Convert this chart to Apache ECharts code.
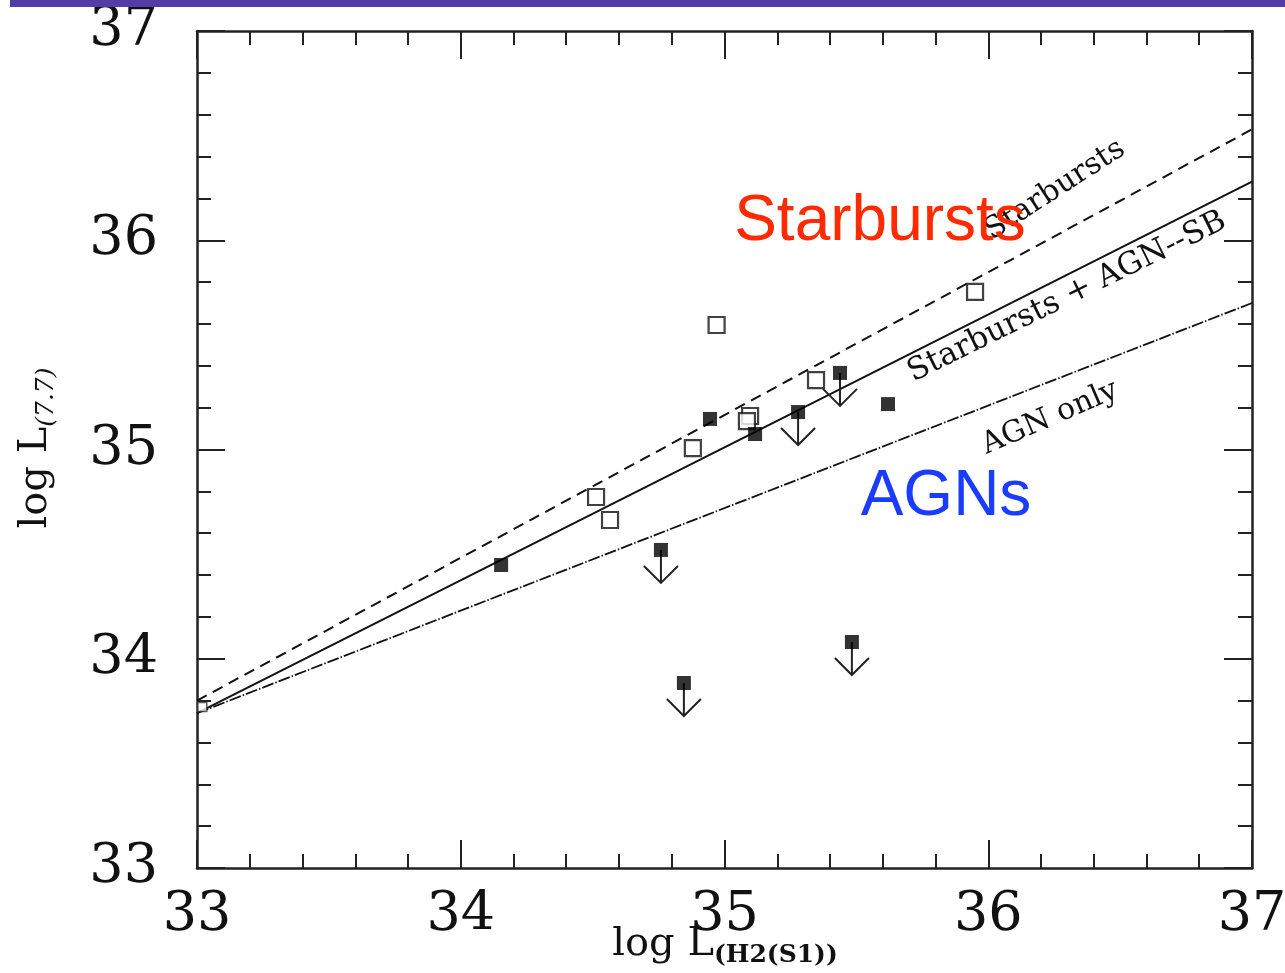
<!DOCTYPE html>
<html>
<head>
<meta charset="utf-8">
<script src="https://cdn.jsdelivr.net/npm/echarts@6/dist/echarts.min.js"></script>
<style>
html,body{margin:0;padding:0;background:#fff;overflow:hidden;}
#chart{width:1285px;height:973px;}
</style>
</head>
<body>
<div id="chart"></div>
<script>
// ---- data ----
const xRange = [33, 37];
const yRange = [33, 37];
// open squares: starburst galaxies
const starburstPoints = [
  [34.97, 35.595], [35.95, 35.753], [35.347, 35.332], [35.097, 35.160],
  [35.085, 35.136], [34.88, 35.007], [34.513, 34.773], [34.566, 34.663]
];
// open square sitting on the left axis
const starburstEdgePoints = [[33.02, 33.77]];
// filled squares: AGN (detections)
const agnPoints = [
  [34.153, 34.448], [34.945, 35.146], [35.116, 35.074], [35.62, 35.217]
];
// filled squares with upper-limit arrows
const agnUpperLimits = [
  [35.279, 35.179], [35.438, 35.366], [34.759, 34.52], [34.846, 33.884], [35.483, 34.08]
];
// fitted relations
const fitStarbursts = [[33, 33.80], [37, 36.53]];
const fitCombined   = [[33, 33.74], [37, 36.28]];
const fitAgnOnly    = [[33, 33.74], [37, 35.70]];

const serif = '"DejaVu Serif", "Liberation Serif", serif';
const axisColor = '#222';

const chart = echarts.init(document.getElementById('chart'), null, {renderer: 'canvas', width: 1285, height: 973});

function axisCommon(showLabel) {
  return {
    axisLine: {show: true, onZero: false, lineStyle: {color: axisColor, width: 2.5}},
    axisTick: {show: true, inside: true, length: 28, lineStyle: {color: axisColor, width: 2}},
    minorTick: {show: true, splitNumber: 5, length: 14, lineStyle: {color: axisColor, width: 2}},
    splitLine: {show: false},
    minorSplitLine: {show: false},
    axisLabel: {show: showLabel, color: '#111', fontFamily: serif, fontSize: 54}
  };
}

const xBottom = Object.assign({type: 'value', position: 'bottom', min: xRange[0], max: xRange[1], interval: 1}, axisCommon(true));
xBottom.axisLabel.margin = 21;
const xTop = Object.assign({type: 'value', position: 'top', min: xRange[0], max: xRange[1], interval: 1}, axisCommon(false));
const yLeft = Object.assign({type: 'value', position: 'left', min: yRange[0], max: yRange[1], interval: 1}, axisCommon(true));
yLeft.axisLabel.margin = 39;
const yRight = Object.assign({type: 'value', position: 'right', min: yRange[0], max: yRange[1], interval: 1}, axisCommon(false));

const option = {
  animation: false,
  backgroundColor: '#fff',
  grid: {left: 197, right: 33, top: 31, bottom: 105, containLabel: false, outerBoundsMode: 'none'},
  xAxis: [xBottom, xTop],
  yAxis: [yLeft, yRight],
  series: [
    {
      type: 'line', data: fitStarbursts, symbol: 'none',
      lineStyle: {color: '#111', width: 2, type: [11, 7]}, z: 3
    },
    {
      type: 'line', data: fitCombined, symbol: 'none',
      lineStyle: {color: '#111', width: 2, type: 'solid'}, z: 3
    },
    {
      type: 'line', data: fitAgnOnly, symbol: 'none',
      lineStyle: {color: '#111', width: 1.8, type: [12, 2, 1.5, 2]}, z: 3
    },
    {
      type: 'custom', data: agnUpperLimits, z: 4,
      renderItem: function (params, api) {
        const p = api.coord([api.value(0), api.value(1)]);
        return {
          type: 'group',
          children: [
            {type: 'line', shape: {x1: p[0], y1: p[1], x2: p[0], y2: p[1] + 33},
             style: {stroke: '#222', lineWidth: 2}},
            {type: 'polyline', shape: {points: [[p[0] - 17, p[1] + 16], [p[0], p[1] + 33], [p[0] + 17, p[1] + 16]]},
             style: {stroke: '#222', lineWidth: 2, fill: null}}
          ]
        };
      }
    },
    {
      type: 'scatter', data: starburstPoints, symbol: 'rect', symbolSize: 16, z: 5,
      itemStyle: {color: '#fff', borderColor: '#111', borderWidth: 2.2}
    },
    {
      type: 'scatter', data: starburstEdgePoints, symbol: 'rect', symbolSize: 9, z: 5,
      itemStyle: {color: '#fff', borderColor: '#333', borderWidth: 1.5}
    },
    {
      type: 'scatter', data: agnPoints.concat(agnUpperLimits), symbol: 'rect', symbolSize: 14, z: 6,
      itemStyle: {color: '#000'}
    }
  ],
  graphic: [
    {type: 'rect', left: 10, top: 0, shape: {width: 1275, height: 7}, style: {fill: '#523CA8'}, z: 10},
    // axis titles
    {type: 'text', x: 725, y: 945, z: 10,
     style: {text: '{a|log L}{b|(H2(S1))}', align: 'center', verticalAlign: 'middle',
       rich: {a: {fontFamily: serif, fontSize: 40, fill: '#111'},
              b: {fontFamily: serif, fontSize: 25, fontWeight: 'bold', fill: '#111', padding: [20, 0, 0, 0]}}}},
    {type: 'text', x: 36, y: 448, rotation: Math.PI / 2, z: 10,
     style: {text: '{a|log L}{b|(7.7)}', align: 'center', verticalAlign: 'middle',
       rich: {a: {fontFamily: serif, fontSize: 40, fill: '#111'},
              b: {fontFamily: serif, fontSize: 25, fontStyle: 'italic', fill: '#111', padding: [20, 0, 0, 0]}}}},
    // line labels
    {type: 'text', x: 1055, y: 190, rotation: 33 * Math.PI / 180, z: 7,
     style: {text: 'Starbursts', align: 'center', verticalAlign: 'middle', fontFamily: serif, fontSize: 30, fill: '#111'}},
    {type: 'text', x: 1067, y: 297, rotation: 26.2 * Math.PI / 180, z: 7,
     style: {text: 'Starbursts + AGN--SB', align: 'center', verticalAlign: 'middle', fontFamily: serif, fontSize: 31, fill: '#111'}},
    {type: 'text', x: 1050, y: 418, rotation: 23.4 * Math.PI / 180, z: 7,
     style: {text: 'AGN only', align: 'center', verticalAlign: 'middle', fontFamily: serif, fontSize: 30, fill: '#111'}},
    // big coloured labels
    {type: 'text', x: 880, y: 222, z: 8,
     style: {text: 'Starbursts', align: 'center', verticalAlign: 'middle', fontFamily: '"Liberation Sans", Arial, sans-serif', fontSize: 64, fill: '#FF2A00'}},
    {type: 'text', x: 946, y: 497, z: 8,
     style: {text: 'AGNs', align: 'center', verticalAlign: 'middle', fontFamily: '"Liberation Sans", Arial, sans-serif', fontSize: 64, fill: '#1A3CFF'}}
  ]
};
chart.setOption(option);
</script>
</body>
</html>
